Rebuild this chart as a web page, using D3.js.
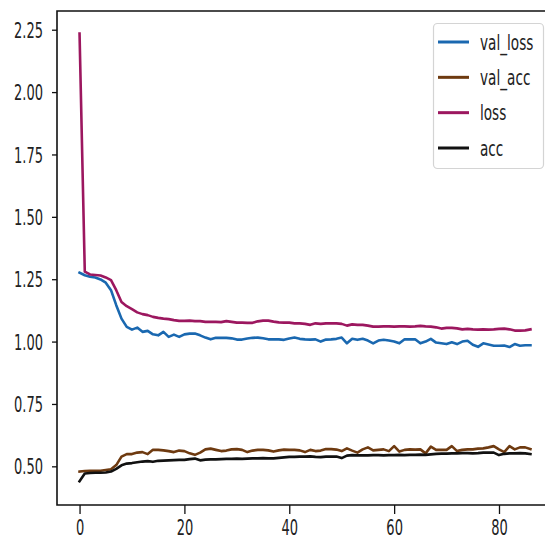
<!DOCTYPE html>
<html>
<head>
<meta charset="utf-8">
<script src="https://cdn.jsdelivr.net/npm/d3@7"></script>
<style>
  html, body { margin: 0; padding: 0; background: #fff; }
  svg text { font-family: "DejaVu Sans", sans-serif; fill: #222; }
</style>
</head>
<body>
<svg id="chart" width="545" height="540"></svg>
<script>
// Training history, one value per epoch (0..86)
const valLoss = [
  1.276, 1.266, 1.260, 1.257, 1.249, 1.236, 1.206, 1.146, 1.092, 1.059,
  1.048, 1.056, 1.039, 1.043, 1.029, 1.025, 1.039, 1.019, 1.028, 1.019,
  1.029, 1.032, 1.032, 1.025, 1.016, 1.009, 1.015, 1.015, 1.015, 1.013,
  1.008, 1.008, 1.012, 1.015, 1.016, 1.013, 1.009, 1.009, 1.009, 1.007,
  1.012, 1.016, 1.011, 1.009, 1.008, 1.009, 1.000, 1.008, 1.009, 1.011,
  1.016, 0.993, 1.011, 1.007, 1.011, 1.004, 0.993, 1.004, 1.007, 1.004,
  1.000, 0.993, 1.009, 1.009, 1.009, 0.993, 1.000, 1.011, 0.996, 0.993,
  0.990, 0.997, 0.990, 1.000, 1.003, 0.987, 0.979, 0.993, 0.988, 0.983,
  0.983, 0.984, 0.978, 0.990, 0.983, 0.985, 0.985
];

const valAcc = [
  0.479, 0.481, 0.482, 0.482, 0.482, 0.485, 0.488, 0.505, 0.539, 0.549,
  0.549, 0.555, 0.557, 0.549, 0.566, 0.566, 0.564, 0.561, 0.557, 0.563,
  0.561, 0.552, 0.546, 0.555, 0.568, 0.571, 0.566, 0.561, 0.563, 0.568,
  0.569, 0.566, 0.557, 0.563, 0.566, 0.566, 0.564, 0.559, 0.564, 0.567,
  0.566, 0.566, 0.564, 0.557, 0.566, 0.561, 0.563, 0.569, 0.569, 0.567,
  0.561, 0.572, 0.563, 0.555, 0.568, 0.576, 0.564, 0.566, 0.568, 0.561,
  0.581, 0.559, 0.566, 0.568, 0.567, 0.568, 0.552, 0.579, 0.566, 0.566,
  0.566, 0.581, 0.561, 0.566, 0.568, 0.568, 0.571, 0.572, 0.576, 0.581,
  0.568, 0.557, 0.581, 0.568, 0.576, 0.576, 0.569
];

const loss = [
  2.235, 1.280, 1.269, 1.267, 1.265, 1.257, 1.246, 1.206, 1.159, 1.142,
  1.130, 1.117, 1.110, 1.106, 1.099, 1.095, 1.092, 1.090, 1.086, 1.083,
  1.083, 1.084, 1.082, 1.082, 1.079, 1.079, 1.079, 1.078, 1.082, 1.079,
  1.076, 1.076, 1.075, 1.075, 1.081, 1.084, 1.084, 1.080, 1.077, 1.076,
  1.076, 1.073, 1.073, 1.071, 1.067, 1.073, 1.071, 1.073, 1.073, 1.073,
  1.071, 1.064, 1.069, 1.067, 1.067, 1.064, 1.060, 1.060, 1.061, 1.061,
  1.060, 1.061, 1.061, 1.060, 1.061, 1.063, 1.061, 1.060, 1.057, 1.052,
  1.055, 1.055, 1.053, 1.049, 1.051, 1.049, 1.048, 1.049, 1.048, 1.049,
  1.051, 1.052, 1.049, 1.044, 1.044, 1.045, 1.049
];

const acc = [
  0.440, 0.471, 0.473, 0.474, 0.474, 0.475, 0.479, 0.490, 0.504, 0.511,
  0.513, 0.516, 0.519, 0.521, 0.518, 0.522, 0.523, 0.524, 0.525, 0.526,
  0.526, 0.529, 0.531, 0.524, 0.527, 0.528, 0.528, 0.529, 0.530, 0.530,
  0.531, 0.530, 0.531, 0.532, 0.532, 0.533, 0.532, 0.532, 0.534, 0.536,
  0.538, 0.538, 0.539, 0.539, 0.540, 0.538, 0.537, 0.539, 0.539, 0.539,
  0.533, 0.543, 0.545, 0.544, 0.544, 0.544, 0.545, 0.545, 0.544, 0.545,
  0.545, 0.546, 0.545, 0.546, 0.546, 0.547, 0.546, 0.548, 0.550, 0.551,
  0.551, 0.552, 0.552, 0.553, 0.553, 0.552, 0.553, 0.555, 0.555, 0.555,
  0.545, 0.550, 0.552, 0.552, 0.553, 0.552, 0.549
];

const seriesNames = ["val_loss", "val_acc", "loss", "acc"];
const seriesColors = ["#1a68b0", "#6e3a10", "#9c175f", "#111111"];
const xTicks = [0, 20, 40, 60, 80];
const yTicks = [0.50, 0.75, 1.00, 1.25, 1.50, 1.75, 2.00, 2.25];

const series = [valLoss, valAcc, loss, acc];

// Text is drawn narrow (horizontally condensed)
const SX = 0.62;
const FONT = 21;

const svg = d3.select("#chart");

const plot = { left: 57, top: 11, bottom: 505, right: 553 };

const x = d3.scaleLinear().domain([-4.3, 90.3]).range([plot.left, plot.right]);
const y = d3.scaleLinear().domain([0.345, 2.325]).range([plot.bottom, plot.top]);

// Lines
const line = d3.line()
  .x((d, i) => x(i))
  .y(d => y(d));

svg.append("g")
  .selectAll("path")
  .data(series)
  .join("path")
  .attr("d", d => line(d))
  .attr("fill", "none")
  .attr("stroke", (d, i) => seriesColors[i])
  .attr("stroke-width", 2.6)
  .attr("stroke-linejoin", "round")
  .attr("stroke-linecap", "square");

// Spines: left, top, bottom
svg.append("path")
  .attr("d", `M${plot.right},${plot.top}H${plot.left}V${plot.bottom}H${plot.right}`)
  .attr("fill", "none")
  .attr("stroke", "#111")
  .attr("stroke-width", 1.6);

// Y axis
const yAxis = svg.append("g")
  .attr("transform", `translate(${plot.left},0)`)
  .call(d3.axisLeft(y).tickValues(yTicks).tickFormat(d3.format(".2f")).tickSize(5).tickSizeOuter(0));
yAxis.select(".domain").remove();
yAxis.selectAll(".tick line").attr("stroke", "#111").attr("stroke-width", 1.3);
yAxis.selectAll(".tick text")
  .attr("font-size", FONT)
  .attr("x", -14 / SX)
  .attr("dy", "0.36em")
  .attr("transform", `scale(${SX},1)`)
  .attr("fill", "#222");

// X axis
const xAxis = svg.append("g")
  .attr("transform", `translate(0,${plot.bottom})`)
  .call(d3.axisBottom(x).tickValues(xTicks).tickFormat(d3.format("d")).tickSize(9).tickSizeOuter(0));
xAxis.select(".domain").remove();
xAxis.selectAll(".tick line").attr("stroke", "#111").attr("stroke-width", 1.3);
xAxis.selectAll(".tick text")
  .attr("font-size", FONT)
  .attr("y", 30)
  .attr("dy", 0)
  .attr("transform", `scale(${SX},1)`)
  .attr("fill", "#222");

// Legend
const legend = svg.append("g");
legend.append("rect")
  .attr("x", 433.5).attr("y", 23.5)
  .attr("width", 110).attr("height", 145)
  .attr("rx", 4).attr("ry", 4)
  .attr("fill", "#fff").attr("fill-opacity", 0.85)
  .attr("stroke", "#d4d4d4").attr("stroke-width", 1.2);

const legendY = d3.scalePoint().domain(seriesNames).range([42, 148]);

const items = legend.selectAll("g.item")
  .data(seriesNames)
  .join("g")
  .attr("class", "item")
  .attr("transform", d => `translate(0,${legendY(d)})`);

items.append("line")
  .attr("x1", 438).attr("x2", 469)
  .attr("y1", 0).attr("y2", 0)
  .attr("stroke", (d, i) => seriesColors[i])
  .attr("stroke-width", 3);

items.append("text")
  .attr("x", 480 / SX)
  .attr("y", 0)
  .attr("dy", "0.35em")
  .attr("font-size", FONT + 1)
  .attr("transform", `scale(${SX},1)`)
  .attr("fill", "#222")
  .text(d => d);
</script>
</body>
</html>
